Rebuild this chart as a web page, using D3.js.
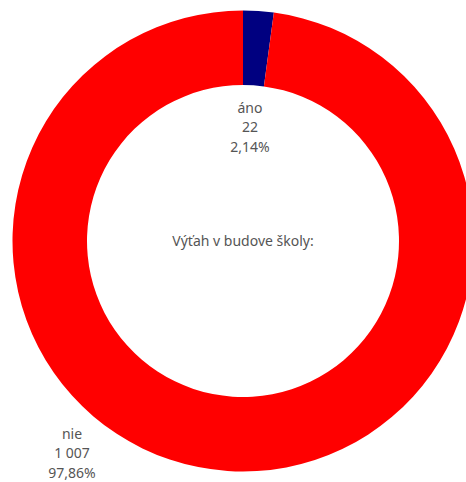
<!DOCTYPE html>
<html lang="sk">
<head>
<meta charset="UTF-8">
<title>Výťah v budove školy</title>
<style>
  body { margin: 0; background: #fff; }
  text { font-family: "Noto Sans", sans-serif; fill: #555; }
</style>
</head>
<body>
<script src="https://cdn.jsdelivr.net/npm/d3@7"></script>
<script>
const categories = ['áno', 'nie'];
const counts = [22, 1007];
const percents = ['2,14%', '97,86%'];
const countLabels = ['22', '1 007'];
const colors = ['#000080', '#ff0000'];
const title = 'Výťah v budove školy:';

const w = 466, h = 482;
const cx = 243, cy = 241;
const outerR = 230.5, innerR = 156;

// label anchors (offset from centre, top baseline)
const labelPos = [[7, -128], [-171, 198]];
const lineH = 19.3;

const svg = d3.select('body').append('svg')
    .attr('width', w)
    .attr('height', h);

const g = svg.append('g').attr('transform', `translate(${cx},${cy})`);

const data = categories.map((c, i) => ({ cat: c, value: counts[i], i }));

const pie = d3.pie().sort(null).value(d => d.value);
const arc = d3.arc().innerRadius(innerR).outerRadius(outerR);

g.selectAll('path')
    .data(pie(data))
    .enter()
    .append('path')
    .attr('d', arc)
    .attr('fill', d => colors[d.data.i]);

const labels = g.selectAll('text.lbl')
    .data(data)
    .enter()
    .append('text')
    .attr('class', 'lbl')
    .attr('text-anchor', 'middle')
    .attr('font-size', '14px')
    .attr('x', d => labelPos[d.i][0])
    .attr('y', d => labelPos[d.i][1]);

labels.each(function (d) {
    const t = d3.select(this);
    [d.cat, countLabels[d.i], percents[d.i]].forEach((s, k) => {
        t.append('tspan')
            .attr('x', labelPos[d.i][0])
            .attr('dy', k === 0 ? 0 : lineH)
            .text(s);
    });
});

g.append('text')
    .attr('text-anchor', 'middle')
    .attr('font-size', '14px')
    .attr('y', 5)
    .text(title);
</script>
</body>
</html>
